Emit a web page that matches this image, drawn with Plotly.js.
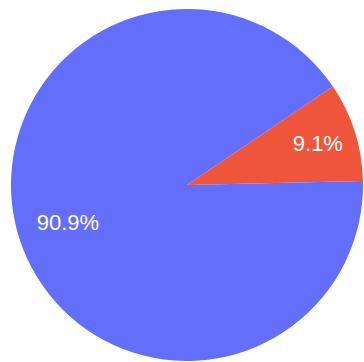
<!DOCTYPE html>
<html>
<head>
<meta charset="utf-8">
<script src="https://cdn.plot.ly/plotly-3.0.1.min.js"></script>
<style>html,body{margin:0;padding:0;background:#fff;}#chart{width:364px;height:362px;}</style>
</head>
<body>
<div id="chart"></div>
<script>
var labels = ["B", "A"];
var values = [1, 10];
var colors = ["#EF553B", "#636EFA"];

var common = {
  type: "pie",
  labels: labels,
  values: values,
  sort: false,
  direction: "counterclockwise",
  rotation: 56,
  hoverinfo: "none",
  domain: {x: [0, 1], y: [0, 1]}
};
var slices = Object.assign({}, common, {
  marker: {colors: colors, line: {color: "#ffffff", width: 0}},
  textinfo: "none"
});
var textRing = Object.assign({}, common, {
  hole: 0.42,
  marker: {colors: ["rgba(0,0,0,0)", "rgba(0,0,0,0)"], line: {width: 0}},
  texttemplate: "%{percent:.1%}",
  textposition: "inside",
  insidetextorientation: "horizontal",
  textfont: {color: "#ffffff", size: 22, family: "Arial, Liberation Sans, sans-serif"}
});
var layout = {
  width: 364, height: 362,
  margin: {l: 10, r: 0, t: 9, b: 1},
  showlegend: false,
  paper_bgcolor: "#ffffff"
};
Plotly.newPlot("chart", [slices, textRing], layout, {displayModeBar: false, staticPlot: true});
</script>
</body>
</html>
